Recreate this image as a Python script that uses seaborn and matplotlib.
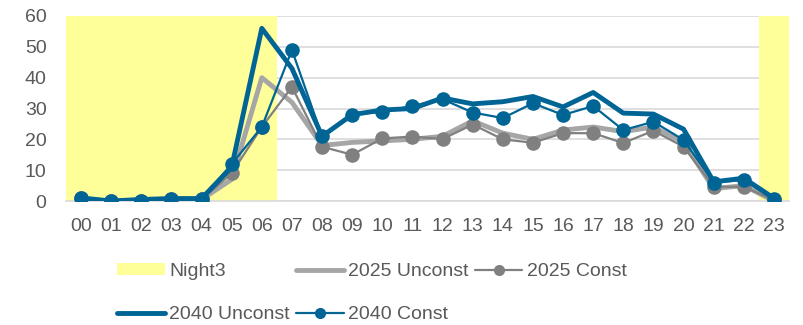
import matplotlib
matplotlib.use("Agg")
import matplotlib.pyplot as plt
from matplotlib.lines import Line2D
from matplotlib.patches import Patch
import numpy as np
import pandas as pd
import seaborn as sns

# Hour-of-day categories
hours = [f"{h:02d}" for h in range(24)]

# Night period shading (full-height band)
night3 = [60, 60, 60, 60, 60, 60, 60, 0, 0, 0, 0, 0,
          0, 0, 0, 0, 0, 0, 0, 0, 0, 0, 0, 60]

# Series values
unconst_2025 = [0.5, 0, 0, 0.5, 0.5, 7, 40, 32, 18, 19, 19.5, 20,
                21, 26, 22, 20, 23, 24, 22.5, 24, 19, 4, 5, 0]
const_2025 = [1, 0, 0, 0.5, 0.5, 9, 24, 37, 17.6, 15, 20.3, 20.9,
              20.1, 24.8, 20, 18.9, 22, 22, 18.8, 22.8, 17.6, 4.6, 4.6, 0.3]
unconst_2040 = [1, 0, 0.5, 0.8, 0.8, 11, 56, 43, 21, 28, 29.5, 30,
                33.4, 31.5, 32.2, 33.9, 30.5, 35.2, 28.5, 28.2, 23.3, 6.2, 7.4, 0.9]
const_2040 = [1, 0, 0, 0.5, 0.5, 12, 24, 49, 21, 28, 29, 30.8,
              33, 28.7, 26.9, 31.7, 27.9, 30.8, 23, 25.7, 19.8, 6, 6.8, 0.5]

yticks = [0, 10, 20, 30, 40, 50, 60]

YELLOW = "#FFFF99"
GREY_LIGHT = "#A6A6A6"
GREY_DARK = "#808080"
BLUE = "#006595"
TEXT = "#595959"
GRID = "#D9D9D9"

sns.set_theme(style="white")
plt.rcParams["font.family"] = ["Liberation Sans", "DejaVu Sans"]

df = pd.DataFrame({
    "hour": hours,
    "night3": night3,
    "u2025": unconst_2025,
    "c2025": const_2025,
    "u2040": unconst_2040,
    "c2040": const_2040,
})

fig = plt.figure(figsize=(8.04, 3.25), dpi=100)
ax = fig.add_axes([66 / 804, 1 - 201 / 325, (789 - 66) / 804, (201 - 16) / 325])

sns.barplot(data=df, x="hour", y="night3", color=YELLOW, saturation=1,
            width=1.0, linewidth=0, ax=ax, zorder=1)

sns.pointplot(data=df, x="hour", y="u2025", color=GREY_LIGHT, errorbar=None,
              marker="", linewidth=3.5, ax=ax, zorder=3)
sns.pointplot(data=df, x="hour", y="c2025", color=GREY_DARK, errorbar=None,
              marker="o", linewidth=1.6, markersize=10.5, markeredgewidth=0,
              ax=ax, zorder=4)
sns.pointplot(data=df, x="hour", y="u2040", color=BLUE, errorbar=None,
              marker="", linewidth=3.5, ax=ax, zorder=5)
sns.pointplot(data=df, x="hour", y="c2040", color=BLUE, errorbar=None,
              marker="o", linewidth=1.6, markersize=10.5, markeredgewidth=0,
              ax=ax, zorder=6)

ax.set_xlim(-0.5, len(hours) - 0.5)
ax.set_ylim(0, 60)
ax.set_yticks(yticks)
ax.set_xlabel("")
ax.set_ylabel("")
ax.yaxis.grid(True, color=GRID, linewidth=1.2, zorder=0)
ax.xaxis.grid(False)
ax.set_axisbelow(True)
for side in ("left", "right", "top"):
    ax.spines[side].set_visible(False)
ax.spines["bottom"].set_color(GRID)
ax.spines["bottom"].set_linewidth(1.2)
ax.spines["bottom"].set_zorder(2)
ax.tick_params(axis="both", length=0, labelsize=14, colors=TEXT)
ax.tick_params(axis="y", pad=14)
ax.tick_params(axis="x", pad=12)

handles = [
    Patch(facecolor=YELLOW, edgecolor="none", label="Night3"),
    Line2D([], [], color=BLUE, linewidth=3.5, solid_capstyle="round", label="2040 Unconst"),
    Line2D([], [], color=GREY_LIGHT, linewidth=3.5, solid_capstyle="round", label="2025 Unconst"),
    Line2D([], [], color=BLUE, linewidth=1.6, marker="o", markersize=7, label="2040 Const"),
    Line2D([], [], color=GREY_DARK, linewidth=1.6, marker="o", markersize=7, label="2025 Const"),
]
leg = fig.legend(handles=handles, ncol=3, loc="center",
                 bbox_to_anchor=(372 / 804, 1 - 293 / 325),
                 frameon=False, fontsize=14, handlelength=2.45,
                 handletextpad=0.25, columnspacing=0.3, labelspacing=1.35,
                 handleheight=0.5)
for t in leg.get_texts():
    t.set_color(TEXT)

fig.savefig("out.png", dpi=100)
